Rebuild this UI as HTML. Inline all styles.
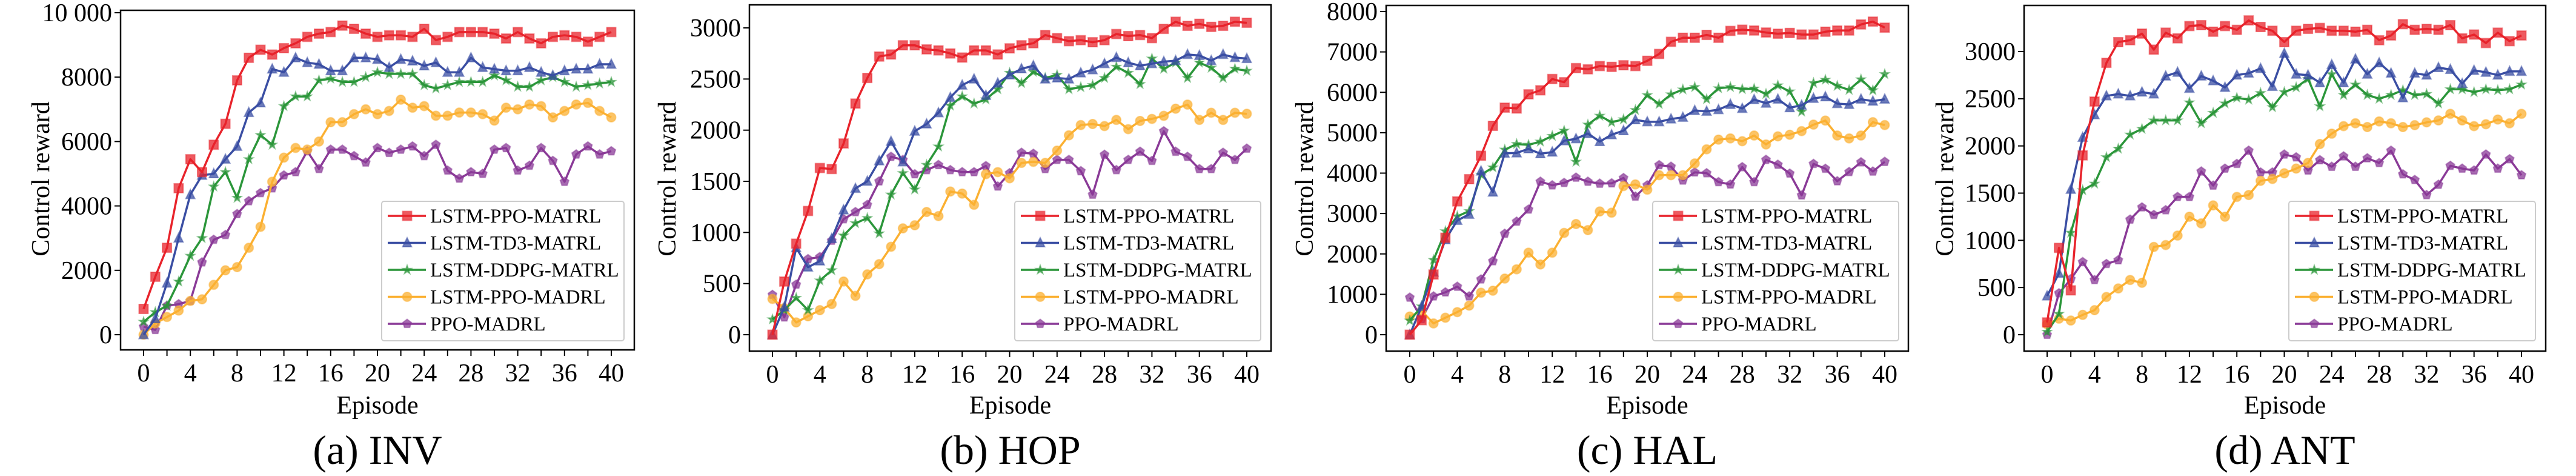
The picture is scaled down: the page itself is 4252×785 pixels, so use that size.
<!DOCTYPE html>
<html><head><meta charset="utf-8">
<style>
html,body{margin:0;padding:0;background:#fff;}
svg{display:block;}
svg text{font-family:"Liberation Serif","DejaVu Serif",serif;fill:#000;}
</style></head>
<body>
<svg id="s" width="4252" height="785" viewBox="0 0 4252 785" xmlns="http://www.w3.org/2000/svg" font-family="Liberation Serif, serif"></svg>
<script>
const S=document.getElementById('s');
const NS='http://www.w3.org/2000/svg';
function el(t,a,txt){const e=document.createElementNS(NS,t);for(const k in a)e.setAttribute(k,a[k]);if(t==='text'){e.setAttribute('font-family','Liberation Serif, serif');e.style.fontFamily='"Liberation Serif", serif';}if(txt!==undefined)e.textContent=txt;S.appendChild(e);return e;}
const cols=['#e8232b','#3a4ea3','#2b963a','#fbb031','#8a3a97'];
const names=['LSTM-PPO-MATRL','LSTM-TD3-MATRL','LSTM-DDPG-MATRL','LSTM-PPO-MADRL','PPO-MADRL'];
const panels=[
{ax:[199,1047,17,577],x0:237,x40:1009,y0:552,ymax:10000,yTop:21,ticks:[0,2000,4000,6000,8000,10000],lab:v=>v==10000?'10 000':String(v),
 ylx:67,leg:[630,1030],cap:'(a) INV',
 d:[[0.8,1.8,2.7,4.55,5.45,5.05,5.9,6.55,7.9,8.6,8.85,8.7,8.9,9.05,9.25,9.35,9.4,9.6,9.5,9.35,9.25,9.3,9.3,9.25,9.5,9.15,9.25,9.4,9.4,9.4,9.35,9.2,9.4,9.2,9.05,9.25,9.3,9.25,9.1,9.25,9.4],
 [0,0.5,1.6,3.0,4.35,4.95,5.0,5.45,5.85,6.9,7.2,8.25,8.15,8.6,8.45,8.4,8.2,8.2,8.6,8.6,8.55,8.3,8.55,8.5,8.35,8.45,8.15,8.15,8.6,8.3,8.25,8.2,8.2,8.3,8.15,8.05,8.2,8.25,8.25,8.4,8.4],
 [0.4,0.7,0.9,1.65,2.45,3.0,4.6,5.05,4.25,5.45,6.2,5.9,7.1,7.4,7.4,7.9,7.95,7.85,7.85,8.0,8.15,8.1,8.1,8.1,7.75,7.65,7.75,7.85,7.85,7.85,8.05,7.9,7.7,7.7,7.9,8.0,7.85,7.7,7.75,7.8,7.85],
 [0,0.35,0.55,0.75,1.05,1.1,1.55,2.0,2.1,2.7,3.35,4.75,5.5,5.8,5.75,6.0,6.6,6.6,6.85,7.0,6.85,6.95,7.3,7.05,7.1,6.8,6.8,6.9,6.9,6.85,6.65,7.05,7.0,7.15,7.1,6.75,6.95,7.15,7.2,6.95,6.75],
 [0.25,0.15,0.9,0.95,1.05,2.25,2.95,3.1,3.75,4.15,4.4,4.55,4.95,5.05,5.7,5.15,5.75,5.75,5.55,5.35,5.8,5.65,5.75,5.85,5.55,5.9,5.1,4.85,5.05,5.0,5.75,5.8,5.1,5.25,5.8,5.4,4.75,5.6,5.85,5.6,5.7]].map(a=>a.map(v=>v*1000))},
{ax:[1237,2098,8,579],x0:1275,x40:2058,y0:552,ymax:3000,yTop:46,ticks:[0,500,1000,1500,2000,2500,3000],lab:String,
 ylx:1101,leg:[1675,2081],cap:'(b) HOP',
 d:[[0,520,890,1210,1630,1620,1870,2260,2510,2720,2740,2830,2830,2790,2780,2750,2710,2780,2780,2740,2800,2830,2850,2930,2900,2870,2880,2860,2880,2940,2920,2930,2900,2990,3060,3020,3040,3010,3020,3060,3050],
 [0,270,850,660,720,940,1220,1430,1500,1700,1890,1690,1990,2060,2170,2320,2440,2500,2340,2460,2540,2600,2630,2500,2510,2500,2560,2590,2650,2710,2660,2630,2650,2670,2680,2740,2730,2680,2740,2710,2700],
 [150,240,360,240,530,630,970,1090,1140,990,1370,1580,1420,1660,1840,2240,2330,2260,2300,2400,2560,2460,2570,2510,2540,2400,2420,2440,2510,2620,2560,2450,2700,2600,2660,2510,2660,2610,2510,2600,2580],
 [350,260,120,180,240,300,520,380,590,690,860,1040,1070,1200,1160,1400,1380,1270,1570,1590,1530,1680,1690,1680,1800,1950,2050,2060,2040,2100,2010,2090,2110,2140,2210,2250,2100,2170,2100,2170,2160],
 [390,170,490,740,760,920,1130,1200,1270,1500,1740,1710,1570,1610,1660,1610,1590,1590,1650,1450,1580,1780,1770,1620,1710,1710,1600,1370,1760,1610,1710,1790,1700,1990,1790,1740,1620,1620,1780,1710,1820]]},
{ax:[2288,3150,9,579],x0:2327,x40:3111,y0:552,ymax:8000,yTop:19,ticks:[0,1000,2000,3000,4000,5000,6000,7000,8000],lab:String,
 ylx:2153,leg:[2728,3134],cap:'(c) HAL',
 d:[[0,360,1490,2400,3300,3850,4430,5170,5620,5600,5950,6050,6330,6250,6600,6570,6650,6630,6670,6650,6780,6950,7250,7350,7350,7420,7350,7520,7550,7530,7480,7450,7470,7430,7430,7500,7530,7530,7680,7750,7600],
 [0,700,1550,2350,2830,2980,4050,3530,4490,4500,4600,4480,4520,4800,4850,4980,4780,4950,5050,5320,5270,5270,5340,5380,5550,5530,5570,5700,5600,5820,5730,5830,5620,5680,5850,5890,5720,5700,5830,5780,5830],
 [350,700,1850,2560,2930,3060,3960,4140,4580,4720,4700,4780,4920,5050,4280,5200,5420,5260,5330,5560,5930,5710,5950,6070,6130,5830,6100,6130,6080,6090,5960,6170,6020,5520,6230,6310,6160,6060,6320,6050,6450],
 [450,590,280,420,560,720,1040,1090,1390,1620,2030,1740,2030,2520,2740,2590,3050,3020,3680,3720,3590,3950,3950,3950,4240,4590,4830,4860,4790,4930,4710,4910,4950,5040,5200,5300,4930,4860,4930,5260,5190],
 [920,390,950,1050,1190,950,1370,1820,2500,2800,3100,3790,3700,3760,3890,3790,3740,3750,3880,3420,3700,4200,4160,3820,4020,4000,3780,3720,4150,3780,4330,4210,3990,3450,4230,4110,3800,4030,4270,4040,4280]]},
{ax:[3341,4202,9,579],x0:3379,x40:4162,y0:552,ymax:3000,yTop:85,ticks:[0,500,1000,1500,2000,2500,3000],lab:String,
 ylx:3210,leg:[3778,4185],cap:'(d) ANT',
 d:[[130,920,470,1900,2470,2880,3100,3120,3190,3020,3200,3140,3270,3280,3210,3270,3230,3330,3260,3220,3100,3220,3240,3250,3220,3220,3210,3230,3120,3170,3290,3230,3240,3230,3280,3140,3180,3090,3200,3110,3170],
 [410,650,1540,2090,2330,2530,2550,2530,2570,2550,2740,2780,2610,2740,2690,2620,2750,2770,2820,2630,2980,2760,2750,2670,2860,2670,2920,2760,2880,2770,2510,2770,2750,2830,2810,2660,2800,2780,2750,2790,2790],
 [30,220,1080,1530,1600,1880,1970,2120,2180,2270,2270,2270,2460,2240,2350,2450,2510,2490,2560,2410,2570,2620,2710,2420,2760,2540,2650,2540,2500,2540,2590,2540,2550,2450,2600,2600,2570,2600,2590,2600,2650],
 [110,170,150,210,260,400,490,580,550,930,950,1050,1250,1180,1370,1250,1460,1480,1630,1650,1710,1760,1820,2020,2130,2210,2240,2200,2260,2240,2200,2220,2250,2270,2340,2270,2210,2230,2280,2240,2340],
 [0,440,590,770,580,750,790,1220,1350,1270,1320,1460,1460,1730,1580,1760,1810,1950,1720,1720,1910,1880,1740,1850,1780,1890,1780,1870,1820,1950,1700,1640,1480,1590,1790,1760,1740,1910,1760,1860,1690]]}
];
function marker(i,x,y,c){
 const a={fill:c,'fill-opacity':0.75,stroke:c,'stroke-opacity':0.5,'stroke-width':2};
 const r=7.5;
 if(i==0){el('rect',Object.assign({x:x-r,y:y-r,width:2*r,height:2*r},a));}
 else if(i==1){el('polygon',Object.assign({points:`${x},${y-r-1} ${x-r},${y+r-1} ${x+r},${y+r-1}`},a));}
 else if(i==2){let p=[];for(let k=0;k<10;k++){const rr=k%2?3:7.5,t=-Math.PI/2+k*Math.PI/5;p.push((x+rr*Math.cos(t)).toFixed(1)+','+(y+rr*Math.sin(t)).toFixed(1));}el('polygon',Object.assign({points:p.join(' ')},a));}
 else if(i==3){el('circle',Object.assign({cx:x,cy:y,r:r},a));}
 else {let p=[];for(let k=0;k<5;k++){const t=-Math.PI/2+k*2*Math.PI/5;p.push((x+r*Math.cos(t)).toFixed(1)+','+(y+r*Math.sin(t)).toFixed(1));}el('polygon',Object.assign({points:p.join(' ')},a));}
}
panels.forEach(P=>{
 const [L,R,T,B]=P.ax;
 const X=e=>P.x0+(P.x40-P.x0)*e/40;
 const Y=v=>P.y0-(P.y0-P.yTop)*v/P.ymax;
 for(let s=4;s>=0;s--){
  const pts=P.d[s].map((v,e)=>X(e).toFixed(1)+','+Y(v).toFixed(1)).join(' ');
  el('polyline',{points:pts,fill:'none',stroke:cols[s],'stroke-width':3.5,'stroke-linejoin':'round'});
  P.d[s].forEach((v,e)=>marker(s,X(e),Y(v),cols[s]));
 }
 el('rect',{x:L,y:T,width:R-L,height:B-T,fill:'none',stroke:'#000','stroke-width':2.5});
 for(let e=0;e<=40;e+=2){const x=X(e);el('line',{x1:x,y1:B,x2:x,y2:B+10,stroke:'#000','stroke-width':2});
  if(e%4==0)el('text',{x:x,y:B+52,'text-anchor':'middle','font-size':42},String(e));}
 P.ticks.forEach(v=>{const y=Y(v);el('line',{x1:L,y1:y,x2:L-10,y2:y,stroke:'#000','stroke-width':2});
  el('text',{x:L-14,y:y+14,'text-anchor':'end','font-size':42},P.lab(v));});
 el('text',{x:(L+R)/2,y:682,'text-anchor':'middle','font-size':42},'Episode');
 el('text',{x:P.ylx+14,y:295,'text-anchor':'middle','font-size':42,transform:`rotate(-90 ${P.ylx+14} 295)`},'Control reward');
 el('text',{x:(L+R)/2,y:765,'text-anchor':'middle','font-size':68},P.cap);
 const [lx,rx]=P.leg;
 el('rect',{x:lx,y:332,width:rx-lx,height:230,fill:'#fff','fill-opacity':0.85,stroke:'#ccc','stroke-width':2,rx:4});
 for(let s=0;s<5;s++){const y=356+s*44.5;
  el('line',{x1:lx+10,y1:y,x2:lx+73,y2:y,stroke:cols[s],'stroke-width':3.5});
  marker(s,lx+42,y,cols[s]);
  el('text',{x:lx+80,y:y+11,'font-size':33},names[s]);}
});
</script>
</body></html>
